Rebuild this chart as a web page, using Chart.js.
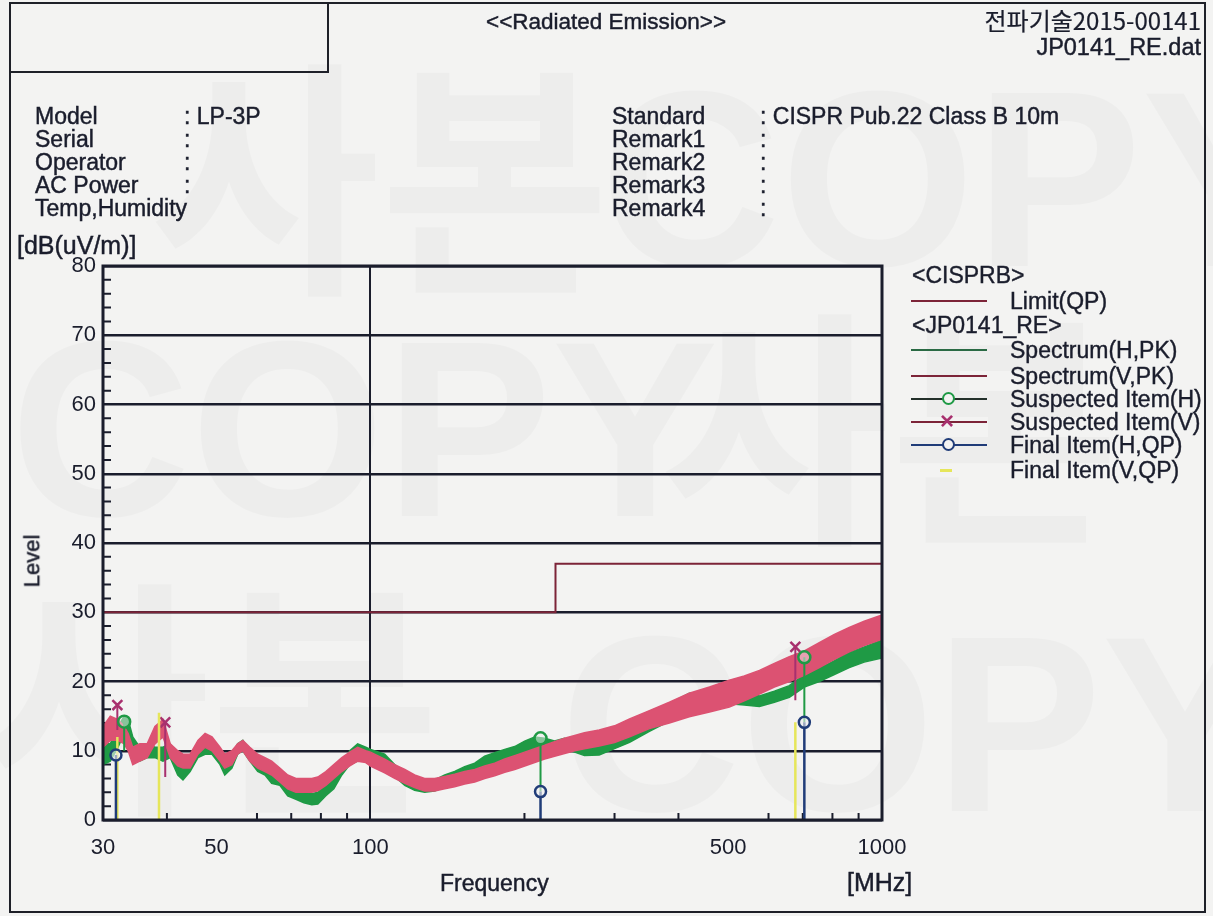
<!DOCTYPE html>
<html>
<head>
<meta charset="utf-8">
<script src="https://cdn.jsdelivr.net/npm/chart.js@4.4.1/dist/chart.umd.min.js"></script>
<style>
  html, body { margin: 0; padding: 0; }
  body { width: 1213px; height: 916px; position: relative; overflow: hidden; background: #f3f3f2;
         font-family: "Liberation Sans", Arial, sans-serif; color: #1a1d2c; }
  .t { position: absolute; white-space: pre; font-size: 23px; line-height: 22px; -webkit-text-stroke: 0.45px #1a1d2c; }
  .wm { position: absolute; white-space: pre; color: rgba(0,0,0,0.022); font-weight: bold; line-height: 1; }
  .box { position: absolute; border: 2.5px solid #1e2028; box-sizing: border-box; }
  .lg { position: absolute; font-size: 23px; line-height: 24px; white-space: pre; -webkit-text-stroke: 0.4px #1a1d2c; }
  .ln { position: absolute; height: 2px; }
  #c { position: absolute; left: 0; top: 0; }
</style>
</head>
<body>
<div class="wm" style="left:150px;top:40px;font-size:250px;font-family:'Noto Sans CJK KR'">사본</div>
<div class="wm" style="left:600px;top:55px;font-size:250px;">COPY</div>
<div class="wm" style="left:10px;top:305px;font-size:250px;">COPY</div>
<div class="wm" style="left:660px;top:290px;font-size:250px;font-family:'Noto Sans CJK KR'">사본</div>
<div class="wm" style="left:-20px;top:560px;font-size:250px;font-family:'Noto Sans CJK KR'">사본</div>
<div class="wm" style="left:560px;top:600px;font-size:250px;">COPY</div>

<div class="box" style="left:9px;top:2px;width:1197px;height:911px;"></div>
<div class="box" style="left:9px;top:2px;width:320px;height:71px;"></div>

<canvas id="c" width="1213" height="916"></canvas>

<div class="t" style="left:486px;top:11px;font-size:22.5px;">&lt;&lt;Radiated Emission&gt;&gt;</div>
<div class="t" style="right:12px;top:9px;font-size:24px;text-align:right;font-family:'Noto Sans CJK KR','Liberation Sans';-webkit-text-stroke:0.2px #1a1d2c;">전파기술2015-00141</div>
<div class="t" style="right:12px;top:36px;font-size:23.5px;text-align:right;">JP0141_RE.dat</div>

<div class="t" style="left:35px;top:105px;">Model</div>
<div class="t" style="left:35px;top:128px;">Serial</div>
<div class="t" style="left:35px;top:151px;">Operator</div>
<div class="t" style="left:35px;top:174px;">AC Power</div>
<div class="t" style="left:35px;top:197px;">Temp,Humidity</div>
<div class="t" style="left:184px;top:105px;">: LP-3P</div>
<div class="t" style="left:184px;top:128px;">:</div>
<div class="t" style="left:184px;top:151px;">:</div>
<div class="t" style="left:184px;top:174px;">:</div>

<div class="t" style="left:612px;top:105px;">Standard</div>
<div class="t" style="left:612px;top:128px;">Remark1</div>
<div class="t" style="left:612px;top:151px;">Remark2</div>
<div class="t" style="left:612px;top:174px;">Remark3</div>
<div class="t" style="left:612px;top:197px;">Remark4</div>
<div class="t" style="left:760px;top:105px;">: CISPR Pub.22 Class B 10m</div>
<div class="t" style="left:760px;top:128px;">:</div>
<div class="t" style="left:760px;top:151px;">:</div>
<div class="t" style="left:760px;top:174px;">:</div>
<div class="t" style="left:760px;top:197px;">:</div>

<div class="t" style="left:17px;top:234px;font-size:25px;">[dB(uV/m)]</div>
<div class="t" style="left:6px;top:550px;font-size:22px;transform:rotate(-90deg);">Level</div>
<div class="t" style="left:440px;top:872px;font-size:23px;">Frequency</div>
<div class="t" style="left:847px;top:871px;font-size:25px;">[MHz]</div>

<div id="legend"></div>

<script>
// spectrum, frequency in MHz, level in dB(uV/m) (band lower / upper edge)
const freq = [30, 31, 32.1, 33, 33.6, 34.3, 35.4, 36.6, 37.9, 39.3,
  40.6, 42, 43, 44.4, 46, 47.5, 49, 50.8, 51.9, 53.6,
  55, 56.3, 58.1, 60.2, 62.2, 64.1, 66.5, 68.9, 71.5, 74.1,
  76.8, 78.9, 81.8, 84.8, 87.9, 91.1, 94.4, 97.9, 100,
  106.6, 111.5, 116.7, 122, 127.6, 133.5, 139.7, 146.1, 152.8, 159.9,
  167.2, 174.9, 183, 191.4, 200.2, 209.4, 219, 229, 239.6, 250.7,
  262, 280, 300, 321, 351,
  384, 420, 460, 503, 538, 576, 616, 659, 705, 754,
  807, 863, 923, 1000];

const vLo = [10.5, 11.5, 11.5, 11, 10, 8, 8.5, 9, 11, 12,
  9, 7.8, 7.5, 7.5, 9.5, 10.5, 10, 8.5, 7.5, 8,
  9.5, 10, 8.5, 7.5, 7, 6.5, 5.5, 4.5, 4, 4,
  4, 4.2, 5, 6, 7, 7.8, 8.5, 8.3, 7.8,
  6.8, 6, 5.3, 4.7, 4.2, 4.2, 4.5, 4.8, 5.2, 5.5,
  6, 6.4, 6.9, 7.3, 7.8, 8.3, 8.8, 9.2, 9.6, 10,
  10.3, 10.7, 11.2, 12, 13.2,
  14, 14.9, 15.6, 16.3, 17.2, 18.2, 19.2, 20, 20.9, 22,
  23.2, 24.3, 25.2, 26.1];
const vHi = [13.5, 15, 14.5, 13.5, 12.5, 10.5, 11, 11, 13.5, 14.5,
  11, 10, 9.5, 9.5, 11.5, 12.5, 12, 10.5, 9.5, 10,
  11, 11.5, 10.5, 9.5, 9, 8.5, 7.5, 6.5, 6, 6,
  6, 6.2, 7, 8, 9, 9.8, 10.5, 10, 9.8,
  8.8, 8, 7.3, 6.5, 6, 6, 6.3, 6.6, 7, 7.3,
  7.8, 8.2, 8.8, 9.3, 9.8, 10.3, 10.8, 11.3, 11.8, 12.2,
  12.6, 13, 13.6, 14.6, 15.8,
  17, 18.3, 19.2, 20.2, 20.8, 21.6, 22.6, 23.6, 24.4, 25.6,
  26.8, 27.8, 28.7, 29.6];
const hLo = [8, 8.5, 10.5, 12.5, 12, 9.5, 8.5, 9, 9, 8.5,
  9, 6.5, 5.8, 7, 9, 9.5, 9.5, 8, 6.5, 7.5,
  9.5, 10, 8.5, 7, 6.5, 5.3, 5, 3.5, 3, 2.5,
  2.2, 2.3, 3.5, 4.5, 6.5, 8, 8.5, 8.5, 8,
  7.5, 6.3, 5, 4.3, 4, 4.2, 4.8, 5.3, 6, 6.5,
  7.5, 8, 8.4, 8.8, 9.6, 10.3, 10.2, 9.8, 10.2, 9.8,
  9.3, 9.4, 10.3, 11.2, 12.8,
  14.3, 15.8, 16.3, 16.8, 16.6, 16.4, 17, 17.7, 19.2, 20,
  21, 22, 22.8, 23.4];
const hHi = [11, 11, 13.5, 15, 14.5, 12, 10.5, 11, 10.5, 10.5,
  11, 8.5, 7.5, 9, 11, 11.5, 11, 10, 8, 9.5,
  11, 11.5, 10, 8.5, 8, 7, 6.5, 5, 4.5, 4,
  3.8, 4, 5, 6, 8, 10, 11, 10.5, 10.2,
  9.5, 8, 6.8, 6, 5.7, 5.8, 6.5, 7, 7.7, 8.2,
  9.2, 9.7, 10.2, 10.6, 11.4, 12, 11.8, 11.4, 11.8, 11.4,
  10.9, 11, 12, 13, 15,
  16.8, 18.3, 18.5, 19, 18.4, 17.9, 18.6, 19.4, 21, 21.9,
  23, 24.2, 25, 26];

// CISPR 22 class B limit (QP)
const limitFreq = [30, 230, 230, 1000];
const limitLevel = [30, 30, 37, 37];

// items
const suspHFreq = [33.0, 215, 705];
const suspHLevel = [14.2, 11.8, 23.5];
const suspHStemLow = [10, 4.1, 14.1];
const suspVFreq = [32.0, 39.7, 677];
const suspVLevel = [16.6, 14.1, 25.0];
const suspVStemLow = [13, 6.2, 17.3];
const finalHFreq = [31.8, 215, 705];
const finalHLevel = [9.4, 4.1, 14.1];
const finalVFreq = [32.0, 38.6, 677];
const finalVLevel = [12.0, 15.5, 14.1];

// axes
const xTicks = [30, 40, 50, 60, 70, 80, 90, 100, 200, 300, 400, 500, 600, 700, 800, 900, 1000];
const xLabels = [30, 50, 100, 500, 1000];
const xMinor = [40, 60, 70, 80, 90, 200, 300, 400, 600, 700, 800, 900];

const ink = '#1a1d2c';
const pink = '#dc5272';
const green = '#1f9a45';
const maroon = '#7c2438';
const navy = '#203c78';
const magenta = '#a8306e';
const yellow = '#e6e65a';

const pts = (xs, ys) => xs.map((x, i) => ({ x: x, y: ys[i] }));
const stems = (xs, lo, hi) => {
  const out = [];
  xs.forEach((x, i) => { out.push({ x: x, y: lo[i] }, { x: x, y: hi[i] }, { x: x, y: null }); });
  return out;
};
const zeros = a => a.map(() => 0);

const framePlugin = {
  id: 'frame',
  beforeDatasetsDraw(chart) {
    const { ctx, chartArea: a, scales } = chart;
    ctx.save();
    ctx.strokeStyle = ink;
    ctx.lineWidth = 2;
    ctx.beginPath();
    xMinor.forEach(v => {
      const px = scales.x.getPixelForValue(v);
      ctx.moveTo(px, a.bottom);
      ctx.lineTo(px, a.bottom - 7);
    });
    for (let v = 2; v < 80; v += 2) {
      if (v % 10 === 0) continue;
      const py = scales.y.getPixelForValue(v);
      ctx.moveTo(a.left, py);
      ctx.lineTo(a.left + 8, py);
    }
    ctx.stroke();
    ctx.restore();
  },
  afterDraw(chart) {
    const { ctx, chartArea: a } = chart;
    ctx.save();
    ctx.strokeStyle = ink;
    ctx.lineWidth = 3;
    ctx.strokeRect(a.left, a.top, a.right - a.left, a.bottom - a.top);
    ctx.restore();
  }
};

new Chart(document.getElementById('c'), {
  type: 'scatter',
  data: {
    datasets: [
      { label: 'Final Item(H,QP)', data: pts(finalHFreq, finalHLevel), pointStyle: 'circle', pointRadius: 5.5,
        pointBorderWidth: 2.5, pointBorderColor: navy, pointBackgroundColor: 'rgba(240,240,240,0.6)', showLine: false },
      { label: 'finalH stems', data: stems(finalHFreq, zeros(finalHFreq), finalHLevel), showLine: true,
        borderColor: navy, borderWidth: 2.5, pointRadius: 0, spanGaps: false },
      { label: 'Final Item(V,QP)', data: stems(finalVFreq, zeros(finalVFreq), finalVLevel), showLine: true,
        borderColor: yellow, borderWidth: 2.5, pointRadius: 0, spanGaps: false },
      { label: 'Suspected Item(H)', data: pts(suspHFreq, suspHLevel), pointStyle: 'circle', pointRadius: 6,
        pointBorderWidth: 2.5, pointBorderColor: green, pointBackgroundColor: 'rgba(240,240,240,0.5)', showLine: false },
      { label: 'Suspected Item(V)', data: pts(suspVFreq, suspVLevel), pointStyle: 'crossRot', pointRadius: 7,
        pointBorderWidth: 2.5, pointBorderColor: magenta, showLine: false },
      { label: 'suspH stems', data: stems(suspHFreq, suspHStemLow, suspHLevel), showLine: true,
        borderColor: green, borderWidth: 2, pointRadius: 0, spanGaps: false },
      { label: 'suspV stems', data: stems(suspVFreq, suspVStemLow, suspVLevel), showLine: true,
        borderColor: magenta, borderWidth: 2, pointRadius: 0, spanGaps: false },
      { label: 'Limit(QP)', data: pts(limitFreq, limitLevel), showLine: true, borderColor: maroon,
        borderWidth: 2, pointRadius: 0 },
      { label: 'Spectrum(V,PK) hi', data: pts(freq, vHi), showLine: true, borderColor: pink, borderWidth: 1.5,
        pointRadius: 0, fill: '+1', backgroundColor: pink },
      { label: 'Spectrum(V,PK) lo', data: pts(freq, vLo), showLine: true, borderColor: pink, borderWidth: 1.5,
        pointRadius: 0 },
      { label: 'Spectrum(H,PK) hi', data: pts(freq, hHi), showLine: true, borderColor: green, borderWidth: 1.5,
        pointRadius: 0, fill: '+1', backgroundColor: green },
      { label: 'Spectrum(H,PK) lo', data: pts(freq, hLo), showLine: true, borderColor: green, borderWidth: 1.5,
        pointRadius: 0 }
    ]
  },
  options: {
    responsive: false,
    animation: false,
    layout: { padding: { left: 43, top: 266, right: 331, bottom: 0 } },
    plugins: { legend: { display: false }, tooltip: { enabled: false } },
    scales: {
      x: {
        type: 'logarithmic',
        min: 30,
        max: 1000,
        afterBuildTicks: scale => { scale.ticks = xTicks.map(v => ({ value: v })); },
        afterFit: scale => { scale.height = 96; },
        ticks: {
          autoSkip: false, maxRotation: 0, minRotation: 0, padding: 15,
          color: ink, font: { family: 'Liberation Sans', size: 22 },
          callback: v => (xLabels.includes(v) ? String(v) : '')
        },
        grid: {
          drawTicks: false, lineWidth: 2,
          color: c => (c.tick && c.tick.value === 100 ? ink : 'rgba(0,0,0,0)')
        },
        border: { display: false }
      },
      y: {
        min: 0,
        max: 80,
        afterFit: scale => { scale.width = 60; },
        ticks: { stepSize: 10, padding: 7, color: ink, font: { family: 'Liberation Sans', size: 22 } },
        grid: { drawTicks: false, lineWidth: 2.5, color: ink },
        border: { display: false }
      }
    }
  },
  plugins: [framePlugin]
});

// legend block on the right
const legendRows = [
  { text: '<CISPRB>', y: 275, head: true },
  { text: 'Limit(QP)', y: 301, line: maroon },
  { text: '<JP0141_RE>', y: 325, head: true },
  { text: 'Spectrum(H,PK)', y: 350, line: '#2a6a44' },
  { text: 'Spectrum(V,PK)', y: 376, line: maroon },
  { text: 'Suspected Item(H)', y: 399, line: '#23302a', mark: 'o', markColor: green },
  { text: 'Suspected Item(V)', y: 422, line: maroon, mark: 'x', markColor: magenta },
  { text: 'Final Item(H,QP)', y: 445, line: navy, mark: 'o', markColor: navy },
  { text: 'Final Item(V,QP)', y: 470, line: null, mark: 'y', markColor: yellow }
];
const lg = document.getElementById('legend');
legendRows.forEach(r => {
  const d = document.createElement('div');
  d.className = 'lg';
  d.textContent = r.text;
  d.style.left = (r.head ? 912 : 1010) + 'px';
  d.style.top = (r.y - 12) + 'px';
  lg.appendChild(d);
  if (r.line) {
    const l = document.createElement('div');
    l.className = 'ln';
    l.style.left = '911px';
    l.style.width = '76px';
    l.style.top = (r.y - 1) + 'px';
    l.style.background = r.line;
    lg.appendChild(l);
  }
  if (r.mark === 'o') {
    const m = document.createElement('div');
    m.style.cssText = 'position:absolute;width:9px;height:9px;border-radius:50%;background:#f3f3f2;border:2.5px solid ' + r.markColor + ';left:942px;top:' + (r.y - 7) + 'px;';
    lg.appendChild(m);
  } else if (r.mark === 'x') {
    const m = document.createElement('div');
    m.className = 'lg';
    m.textContent = '×';
    m.style.cssText += 'left:940px;top:' + (r.y - 13) + 'px;color:' + r.markColor + ';font-size:24px;font-weight:bold;-webkit-text-stroke:0;';
    lg.appendChild(m);
  } else if (r.mark === 'y') {
    const m = document.createElement('div');
    m.style.cssText = 'position:absolute;width:12px;height:3px;background:' + r.markColor + ';left:940px;top:' + (r.y - 1) + 'px;';
    lg.appendChild(m);
  }
});
</script>
</body>
</html>
